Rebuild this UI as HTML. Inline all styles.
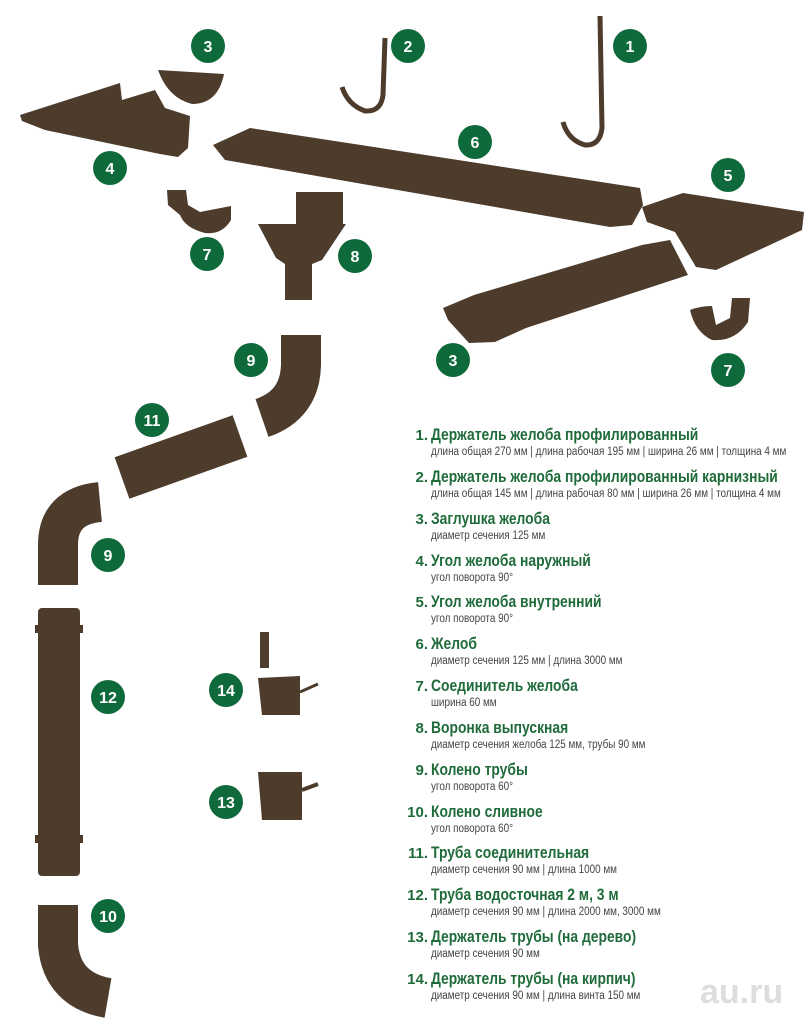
<!DOCTYPE html>
<html><head><meta charset="utf-8"><style>
body{margin:0;background:#fff;width:808px;height:1024px;overflow:hidden;position:relative;font-family:"Liberation Sans",sans-serif}
svg{position:absolute;left:0;top:0}
.leg{position:absolute;left:0;top:426px;width:808px}
.it{height:41.85px;position:relative}
.n{position:absolute;right:380px;top:1px;font-size:15px;font-weight:bold;color:#1f6b3a;text-align:right}
.t{position:absolute;left:431px;top:0;font-size:16.5px;font-weight:bold;color:#1f6b3a;white-space:nowrap;transform:scaleX(0.84);transform-origin:0 0}
.s{position:absolute;left:431px;top:20px;font-size:11.5px;color:#444;white-space:nowrap;transform:scaleX(0.86);transform-origin:0 0}
</style></head><body>
<svg width="808" height="1024" viewBox="0 0 808 1024">
<g fill="#4d3b2c" stroke="none">
<polygon points="20,115 120,83 122,100 155,90 165,108 190,116 188,148 178,157 160,154 45,130 22,121"/>
<path d="M158,70 L224,74 Q218,104 192,104 Q168,98 158,70Z"/>
<polygon points="213,145 250,128 640,188 643,205 632,225 610,227 225,160"/>
<path d="M600,16 L602,128 Q600,146 585,145 Q568,140 563,122" fill="none" stroke="#4d3b2c" stroke-width="5"/>
<path d="M385,38 L383,95 Q381,112 365,111 Q348,105 342,87" fill="none" stroke="#4d3b2c" stroke-width="5"/>
<path d="M167,190 L186,190 L188,205 L200,212 L231,206 L231,220 Q222,235 205,233 Q185,228 180,215 L168,205Z"/>
<!-- 8 funnel -->
<rect x="296" y="192" width="47" height="34"/>
<path d="M258,224 L346,224 L322,260 L312,264 L312,300 L285,300 L285,264 L276,258 Z"/>
<polygon points="642,207 683,193 804,212 802,230 716,270 696,267 675,232 647,222"/>
<polygon points="443,308 474,295 642,245 670,240 688,275 526,328 495,342 469,343 448,320"/>
<path d="M690,310 Q700,306 712,306 L716,325 L730,318 L732,298 L750,298 L748,322 Q735,342 712,340 Q695,332 690,310Z"/>
<path d="M301,335 L301,365 Q300,405 262,418" fill="none" stroke="#4d3b2c" stroke-width="40"/>
<path d="M122,478 L240,436" fill="none" stroke="#4d3b2c" stroke-width="44"/>
<path d="M100,502 Q58,506 58,545 L58,585" fill="none" stroke="#4d3b2c" stroke-width="40"/>
<rect x="38" y="608" width="42" height="268" rx="4"/>
<rect x="35" y="625" width="48" height="8"/><rect x="35" y="835" width="48" height="8"/>
<path d="M58,905 L58,945 Q62,990 108,998" fill="none" stroke="#4d3b2c" stroke-width="40"/>
<rect x="260" y="632" width="9" height="36"/>
<path d="M258,678 L300,676 L300,715 L262,715Z"/><path d="M300,692 L318,684" stroke="#4d3b2c" stroke-width="3"/>
<path d="M258,772 L302,772 L302,820 L262,820Z"/><path d="M302,790 L318,784" stroke="#4d3b2c" stroke-width="4"/>
</g>
<g fill="#0e6a3a">
<circle cx="208" cy="46" r="17"/><circle cx="408" cy="46" r="17"/><circle cx="630" cy="46" r="17"/>
<circle cx="475" cy="142" r="17"/><circle cx="110" cy="168" r="17"/><circle cx="728" cy="175" r="17"/>
<circle cx="207" cy="254" r="17"/><circle cx="355" cy="256" r="17"/><circle cx="453" cy="360" r="17"/>
<circle cx="728" cy="370" r="17"/><circle cx="251" cy="360" r="17"/><circle cx="152" cy="420" r="17"/>
<circle cx="108" cy="555" r="17"/><circle cx="108" cy="697" r="17"/><circle cx="226" cy="690" r="17"/>
<circle cx="226" cy="802" r="17"/><circle cx="108" cy="916" r="17"/>
</g>
<g fill="#fff" font-family="Liberation Sans, sans-serif" font-weight="bold" font-size="16" text-anchor="middle">
<text x="208" y="52">3</text><text x="408" y="52">2</text><text x="630" y="52">1</text>
<text x="475" y="148">6</text><text x="110" y="174">4</text><text x="728" y="181">5</text>
<text x="207" y="260">7</text><text x="355" y="262">8</text><text x="453" y="366">3</text>
<text x="728" y="376">7</text><text x="251" y="366">9</text><text x="152" y="426">11</text>
<text x="108" y="561">9</text><text x="108" y="703">12</text><text x="226" y="696">14</text>
<text x="226" y="808">13</text><text x="108" y="922">10</text>
</g>
<text x="700" y="1003" font-family="Liberation Sans, sans-serif" font-size="34" font-weight="bold" fill="#ddd">au.ru</text>
</svg>
<div class="leg">
<div class="it"><span class="n">1.</span><span class="t">Держатель желоба профилированный</span><span class="s">длина общая 270 мм | длина рабочая 195 мм | ширина 26 мм | толщина 4 мм</span></div>
<div class="it"><span class="n">2.</span><span class="t">Держатель желоба профилированный карнизный</span><span class="s">длина общая 145 мм | длина рабочая 80 мм | ширина 26 мм | толщина 4 мм</span></div>
<div class="it"><span class="n">3.</span><span class="t">Заглушка желоба</span><span class="s">диаметр сечения 125 мм</span></div>
<div class="it"><span class="n">4.</span><span class="t">Угол желоба наружный</span><span class="s">угол поворота 90°</span></div>
<div class="it"><span class="n">5.</span><span class="t">Угол желоба внутренний</span><span class="s">угол поворота 90°</span></div>
<div class="it"><span class="n">6.</span><span class="t">Желоб</span><span class="s">диаметр сечения 125 мм | длина 3000 мм</span></div>
<div class="it"><span class="n">7.</span><span class="t">Соединитель желоба</span><span class="s">ширина 60 мм</span></div>
<div class="it"><span class="n">8.</span><span class="t">Воронка выпускная</span><span class="s">диаметр сечения желоба 125 мм, трубы 90 мм</span></div>
<div class="it"><span class="n">9.</span><span class="t">Колено трубы</span><span class="s">угол поворота 60°</span></div>
<div class="it"><span class="n">10.</span><span class="t">Колено сливное</span><span class="s">угол поворота 60°</span></div>
<div class="it"><span class="n">11.</span><span class="t">Труба соединительная</span><span class="s">диаметр сечения 90 мм | длина 1000 мм</span></div>
<div class="it"><span class="n">12.</span><span class="t">Труба водосточная 2 м, 3 м</span><span class="s">диаметр сечения 90 мм | длина 2000 мм, 3000 мм</span></div>
<div class="it"><span class="n">13.</span><span class="t">Держатель трубы (на дерево)</span><span class="s">диаметр сечения 90 мм</span></div>
<div class="it"><span class="n">14.</span><span class="t">Держатель трубы (на кирпич)</span><span class="s">диаметр сечения 90 мм | длина винта 150 мм</span></div>
</div>
</body></html>
